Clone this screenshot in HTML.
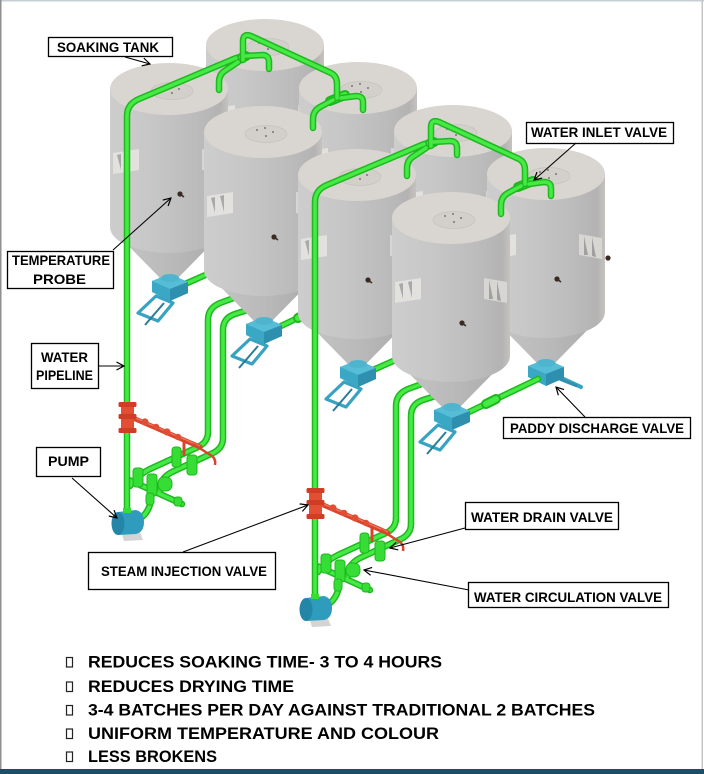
<!DOCTYPE html>
<html><head><meta charset="utf-8"><style>
html,body{margin:0;padding:0;background:#fff;}
svg{display:block;}
</style></head><body>
<svg width="704" height="774" viewBox="0 0 704 774" xmlns="http://www.w3.org/2000/svg">
<defs>
 <linearGradient id="gBody" x1="0" y1="0" x2="1" y2="0">
  <stop offset="0" stop-color="#cdcdcd"/>
  <stop offset="0.35" stop-color="#c7c7c7"/>
  <stop offset="0.75" stop-color="#bbbbbb"/>
  <stop offset="0.93" stop-color="#b3b3b3"/>
  <stop offset="1" stop-color="#c5c2be"/>
 </linearGradient>
 <linearGradient id="gCone" x1="0" y1="0" x2="1" y2="0">
  <stop offset="0" stop-color="#c6c6c6"/>
  <stop offset="0.5" stop-color="#bababa"/>
  <stop offset="1" stop-color="#a9a9a9"/>
 </linearGradient>
 <marker id="ah" markerWidth="9" markerHeight="9" refX="8" refY="4.5" orient="auto" markerUnits="userSpaceOnUse">
  <path d="M0.5 0.5 L8 4.5 L0.5 8.5" fill="none" stroke="#000" stroke-width="1.2"/>
 </marker>

 <g id="tank">
  <path d="M-59 138 L-10 188 L-9 192 L9 192 L10 188 L59 138 Z" fill="url(#gCone)"/>
  <path d="M-59 0 L-59 138 A59 26 0 0 0 59 138 L59 0 Z" fill="url(#gBody)"/>
  <ellipse cx="0" cy="0" rx="59" ry="26" fill="#d9d6d1"/>
  <ellipse cx="3" cy="2" rx="21" ry="8.5" fill="#d3d0cb" stroke="#c6c2bd" stroke-width="0.7"/>
  <circle cx="-6" cy="-2" r="1" fill="#777"/>
  <circle cx="2" cy="-4" r="1" fill="#777"/>
  <circle cx="10" cy="0" r="1" fill="#777"/>
  <circle cx="3" cy="4" r="1" fill="#777"/>
  <path d="M-56 64 L-30 60 L-30 81 L-56 85 Z" fill="#e3e1dd"/>
  <path d="M-52 66 L-48 65 L-48 81 Z M-43 64 L-39 63 L-39 80 Z" fill="#a9a9a9"/>
  <path d="M33 60 L56 64 L56 85 L33 81 Z" fill="#d8d6d2"/>
  <path d="M38 62 L42 81 L38 81 Z M46 63 L50 83 L46 82 Z" fill="#a0a0a0"/>
  <circle cx="11" cy="105" r="2.6" fill="#3a2a22"/>
  <path d="M11 105 L15 108" stroke="#3a2a22" stroke-width="1.5"/>
 </g>

 <g id="valveF">
  <path d="M-33 34 L-15 17 L2 24 L-13 42 Z" fill="none" stroke="#38a3c1" stroke-width="3.2" stroke-linejoin="round"/>
  <path d="M-7 24 L-26 46" stroke="#2a7d97" stroke-width="2"/>
  <path d="M-19 2 L-1 -5 L17 3 L17 14 L-1 22 L-19 13 Z" fill="#3aa7c5"/>
  <path d="M-19 2 L-1 -5 L17 3 L-1 10 Z" fill="#56bdd7"/>
  <path d="M-1 10 L17 3 L17 14 L-1 22 Z" fill="#2f8fae"/>
  <ellipse cx="-1" cy="-1" rx="9" ry="4" fill="#4fb5cf"/>
 </g>

 <g id="valveB">
  <path d="M6 10 L34 23" stroke="#38a3c1" stroke-width="4" stroke-linecap="round"/>
  <path d="M-19 2 L-1 -5 L17 3 L17 14 L-1 22 L-19 13 Z" fill="#3aa7c5"/>
  <path d="M-19 2 L-1 -5 L17 3 L-1 10 Z" fill="#56bdd7"/>
  <path d="M-1 10 L17 3 L17 14 L-1 22 Z" fill="#2f8fae"/>
  <path d="M10 14 L30 22" stroke="#2f8fae" stroke-width="3"/>
  <ellipse cx="-1" cy="-1" rx="9" ry="4" fill="#4fb5cf"/>
 </g>

 <g id="pLow" fill="none" stroke-linecap="round" stroke-linejoin="round">
  <path d="M185 284 L262 250"/>
  <path d="M208 432 L208 320 Q208 308 220 303 L242 295"/>
  <path d="M223 438 L223 330 Q223 318 235 314 L254 308"/>
  <path d="M281 326 L350 293"/>
  <path d="M208 432 Q208 442 198 447 L150 469 Q136 476 130 486"/>
  <path d="M223 438 Q223 448 213 453 L172 472 Q160 478 160 490"/>
  <path d="M129 480 L182 504"/>
  <path d="M136 521 Q150 514 151 498"/>
 </g>

 <g id="pTop" fill="none" stroke-linecap="round" stroke-linejoin="round">
  <path d="M127 516 L127 116 Q127 104 139 99 L236 58"/>
  <path d="M243 60 L243 41 Q243 33 251 36 L331 73 Q337 76 337 84 L337 98"/>
  <path d="M238 62 L226 70 Q219 74 219 82 L219 90"/>
  <path d="M246 56 L262 55 Q269 55 269 62 L269 69"/>
  <path d="M333 100 L320 107 Q313 111 313 119 L313 128"/>
  <path d="M341 98 L356 96 Q363 96 363 102 L363 110"/>
 </g>

 <g id="pCpl" fill="none" stroke-linecap="round">
  <path d="M230 63 L246 56"/>
  <path d="M330 101 L345 95"/>
  <path d="M298 318 L308 313"/>
 </g>

 <g id="half">
  <use href="#tank" x="265" y="45"/>
  <use href="#tank" x="358" y="88"/>
  <circle cx="420" cy="172" r="2.6" fill="#3a2a22"/>
  <use href="#valveB" x="359" y="278"/>
  <use href="#pLow" stroke="#1fb81f" stroke-width="6.5"/>
  <use href="#pLow" stroke="#45ea45" stroke-width="3.5"/>
  <use href="#tank" x="169" y="89"/>
  <use href="#tank" x="263" y="132"/>
  <use href="#valveF" x="171" y="279"/>
  <use href="#valveF" x="265" y="322"/>
  <use href="#pCpl" stroke="#1fb81f" stroke-width="10"/>
  <use href="#pCpl" stroke="#45ea45" stroke-width="6"/>
  <!-- green valves near manifold -->
  <g fill="#35dd35" stroke="#1fb81f" stroke-width="1">
   <rect x="172" y="447" width="9" height="20" rx="3"/>
   <rect x="187" y="455" width="10" height="20" rx="3"/>
   <rect x="133" y="468" width="10" height="19" rx="3"/>
   <rect x="147" y="474" width="10" height="22" rx="3"/>
   <rect x="158" y="477" width="14" height="14" rx="6"/>
   <rect x="146" y="493" width="8" height="12" rx="3"/>
   <rect x="174" y="497" width="8" height="9" rx="3"/>
  </g>
  <use href="#pTop" stroke="#1fb81f" stroke-width="6.5"/>
  <use href="#pTop" stroke="#45ea45" stroke-width="3.5"/>
  <!-- red steam injection -->
  <path d="M133 418 L200 447" stroke="#d8452c" stroke-width="5" stroke-linecap="round"/>
  <path d="M133 417 L200 446" stroke="#f0735c" stroke-width="1.4"/>
  <circle cx="145" cy="422" r="3.6" fill="#e04e33"/>
  <circle cx="156" cy="427" r="3.3" fill="#e04e33"/>
  <circle cx="167" cy="432" r="3.6" fill="#e04e33"/>
  <circle cx="178" cy="437" r="3.2" fill="#e04e33"/>
  <path d="M193 444 L212 456 Q216 459 215 465" stroke="#d8452c" stroke-width="2.5" fill="none"/>
  <path d="M184 440 L184 456" stroke="#d8452c" stroke-width="3"/>
  <rect x="121" y="404" width="13" height="28" fill="#e24f35"/>
  <rect x="118.5" y="402" width="18" height="5" rx="1.5" fill="#cf3d25"/>
  <rect x="118.5" y="414" width="18" height="5" rx="1.5" fill="#cf3d25"/>
  <rect x="118.5" y="428" width="18" height="5" rx="1.5" fill="#cf3d25"/>
  <!-- pump -->
  <path d="M121 531 L139 530 L143 540 L124 541 Z" fill="#d4d4d4"/>
  <path d="M118 512 L136 510 Q144 512 144 522 Q144 532 136 534 L118 535 Z" fill="#2f9cbd"/>
  <ellipse cx="118" cy="523.5" rx="6.5" ry="11.5" fill="#2486a6"/>
  <rect x="123" y="508" width="8" height="5" fill="#35dd35"/>
 </g>
</defs>

<rect x="0" y="0" width="704" height="774" fill="#ffffff"/>
<use href="#half"/>
<use href="#half" transform="translate(188,86)"/>

<!-- labels -->
<g fill="#fff" stroke="#000" stroke-width="1.3">
 <rect x="48.5" y="37.5" width="124" height="19"/>
 <rect x="7.5" y="251.5" width="106" height="37"/>
 <rect x="31.5" y="343.5" width="67" height="45"/>
 <rect x="36.5" y="447.5" width="64" height="29"/>
 <rect x="88.5" y="552.5" width="187" height="37"/>
 <rect x="526.5" y="122.5" width="147" height="21"/>
 <rect x="503.5" y="417.5" width="187" height="21"/>
 <rect x="465.5" y="502.5" width="153" height="27"/>
 <rect x="468.5" y="582.5" width="200" height="25"/>
</g>
<g stroke="#000" stroke-width="1.1" fill="none" marker-end="url(#ah)">
 <line x1="125" y1="57" x2="150" y2="64"/>
 <line x1="113" y1="250" x2="171" y2="198"/>
 <line x1="98" y1="366" x2="124" y2="366"/>
 <line x1="72" y1="478" x2="117" y2="518"/>
 <line x1="183" y1="552" x2="308" y2="505"/>
 <line x1="576" y1="143" x2="534" y2="180"/>
 <line x1="585" y1="417" x2="556" y2="387"/>
 <line x1="465" y1="528" x2="390" y2="548"/>
 <line x1="469" y1="590" x2="364" y2="570"/>
</g>
<g font-family="'Liberation Sans', Arial, sans-serif" font-weight="bold" font-size="14" fill="#000" lengthAdjust="spacingAndGlyphs">
 <text x="57" y="52" textLength="102" lengthAdjust="spacingAndGlyphs">SOAKING TANK</text>
 <text x="12" y="265" textLength="98" lengthAdjust="spacingAndGlyphs">TEMPERATURE</text>
 <text x="33" y="284" textLength="53" lengthAdjust="spacingAndGlyphs">PROBE</text>
 <text x="41" y="362" textLength="47" lengthAdjust="spacingAndGlyphs">WATER</text>
 <text x="36" y="380" textLength="57" lengthAdjust="spacingAndGlyphs">PIPELINE</text>
 <text x="48" y="466" textLength="41" lengthAdjust="spacingAndGlyphs">PUMP</text>
 <text x="101" y="576" textLength="166" lengthAdjust="spacingAndGlyphs">STEAM INJECTION VALVE</text>
 <text x="531" y="137" textLength="136" lengthAdjust="spacingAndGlyphs">WATER INLET VALVE</text>
 <text x="510" y="433" textLength="174" lengthAdjust="spacingAndGlyphs">PADDY DISCHARGE VALVE</text>
 <text x="471" y="522" textLength="142" lengthAdjust="spacingAndGlyphs">WATER DRAIN VALVE</text>
 <text x="474" y="602" textLength="188" lengthAdjust="spacingAndGlyphs">WATER CIRCULATION VALVE</text>
</g>

<!-- bottom list -->
<g fill="none" stroke="#222" stroke-width="1.2">
 <rect x="66.5" y="657.5" width="6" height="9.5"/>
 <rect x="66.5" y="682" width="6" height="9.5"/>
 <rect x="66.5" y="705.5" width="6" height="9.5"/>
 <rect x="66.5" y="729" width="6" height="9.5"/>
 <rect x="66.5" y="752" width="6" height="9.5"/>
</g>
<g font-family="'Liberation Sans', Arial, sans-serif" font-weight="bold" font-size="16.5" fill="#000">
 <text x="88" y="667.5" textLength="354" lengthAdjust="spacingAndGlyphs">REDUCES SOAKING TIME- 3 TO 4 HOURS</text>
 <text x="88" y="692" textLength="206" lengthAdjust="spacingAndGlyphs">REDUCES DRYING TIME</text>
 <text x="88" y="715.5" textLength="507" lengthAdjust="spacingAndGlyphs">3-4 BATCHES PER DAY AGAINST TRADITIONAL 2 BATCHES</text>
 <text x="88" y="739" textLength="351" lengthAdjust="spacingAndGlyphs">UNIFORM TEMPERATURE AND COLOUR</text>
 <text x="88" y="762" textLength="129" lengthAdjust="spacingAndGlyphs">LESS BROKENS</text>
</g>

<!-- borders -->
<rect x="0" y="0" width="704" height="1.5" fill="#c6cfd4"/>
<rect x="0" y="0" width="1.5" height="774" fill="#8f8f8f"/>
<rect x="701.5" y="0" width="1.5" height="774" fill="#c4c4c4"/>
<rect x="0" y="769" width="704" height="5" fill="#1e4d68"/>
</svg>
</body></html>
